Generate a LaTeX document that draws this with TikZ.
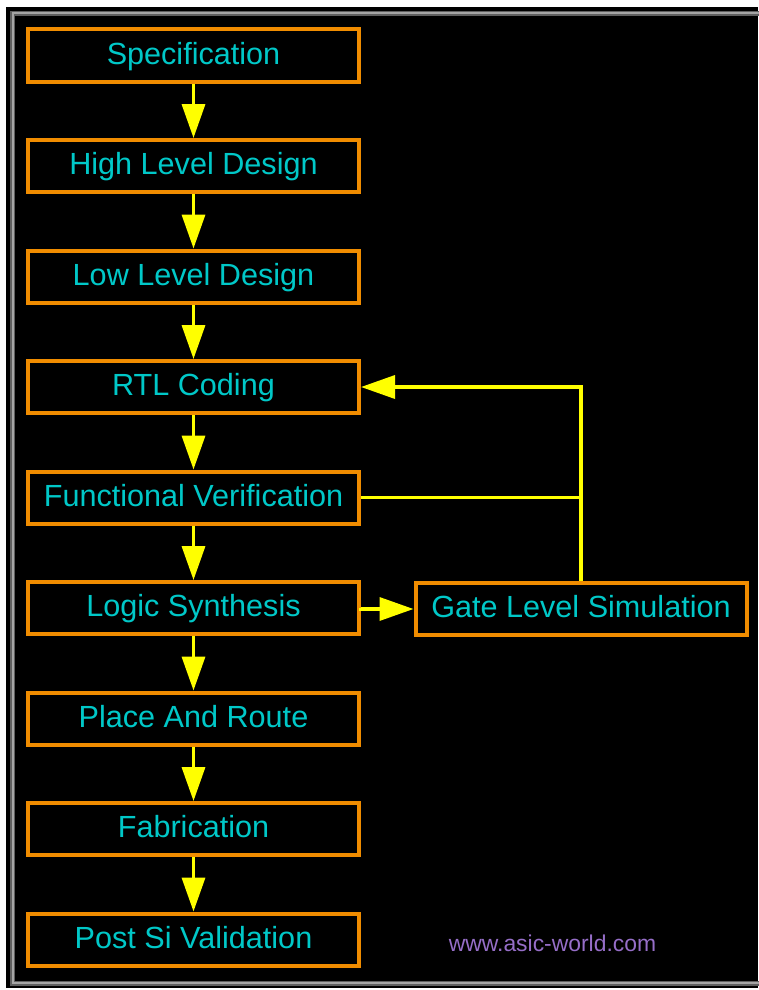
\documentclass[tikz,border=0pt]{standalone}
\usepackage{fontspec}
\setmainfont{Liberation Sans}
\usetikzlibrary{arrows.meta}
\definecolor{boxorange}{RGB}{240,140,0}
\definecolor{txtcyan}{RGB}{0,200,200}
\definecolor{arryellow}{RGB}{255,255,0}
\definecolor{wmpurple}{RGB}{150,110,200}
\definecolor{framedark}{RGB}{95,95,95}
\definecolor{framelight}{RGB}{165,165,165}
\tikzset{
  stepbox/.style={draw=boxorange, line width=4pt, fill=black,
    minimum width=331pt, minimum height=52pt, inner sep=0pt,
    text height=21pt, text depth=4pt,
    text=txtcyan, font=\fontsize{30.6}{36}\selectfont},
  flow/.style={draw=arryellow, line width=3.5pt,
    -{Triangle[length=34pt,width=23pt]}},
  plainflow/.style={draw=arryellow, line width=3.5pt}
}
\begin{document}
\begin{tikzpicture}[x=1pt,y=-1pt]
\useasboundingbox (0,0) rectangle (758,990);
\fill[white] (0,0) rectangle (758,990);
\fill[black] (6,7) rectangle (758,988);
\draw[framedark, line width=5pt] (12.5,13.5) rectangle (761,983);
\draw[framelight, line width=2pt] (12.5,13.5) rectangle (761,983);

\node[stepbox] (spec) at (193.5,55.5) {Specification};
\node[stepbox] (hld)  at (193.5,166)  {High Level Design};
\node[stepbox] (lld)  at (193.5,276.5) {Low Level Design};
\node[stepbox] (rtl)  at (193.5,387)  {RTL Coding};
\node[stepbox] (fv)   at (193.5,497.5) {Functional Verification};
\node[stepbox] (ls)   at (193.5,608)  {Logic Synthesis};
\node[stepbox] (pnr)  at (193.5,718.5) {Place And Route};
\node[stepbox] (fab)  at (193.5,829)  {Fabrication};
\node[stepbox] (psv)  at (193.5,939.5) {Post Si Validation};
\node[stepbox] (gls)  at (581,609)    {Gate Level Simulation};

\node[text=wmpurple, font=\fontsize{22.9}{26}\selectfont, inner sep=0pt]
  (wm) at (552.5,943) {www.asic-world.com};

\draw[flow] (spec) -- (hld);
\draw[flow] (hld) -- (lld);
\draw[flow] (lld) -- (rtl);
\draw[flow] (rtl) -- (fv);
\draw[flow] (fv) -- (ls);
\draw[flow] (ls) -- (pnr);
\draw[flow] (pnr) -- (fab);
\draw[flow] (fab) -- (psv);
\draw[flow] (ls.east) -- (ls.east |- gls.west) -- (gls.west);
\draw[flow] (gls.north) -- (gls.north |- rtl.east) -- (rtl.east);
\draw[plainflow] (fv.east) -- (fv.east -| gls.north);
\end{tikzpicture}
\end{document}
